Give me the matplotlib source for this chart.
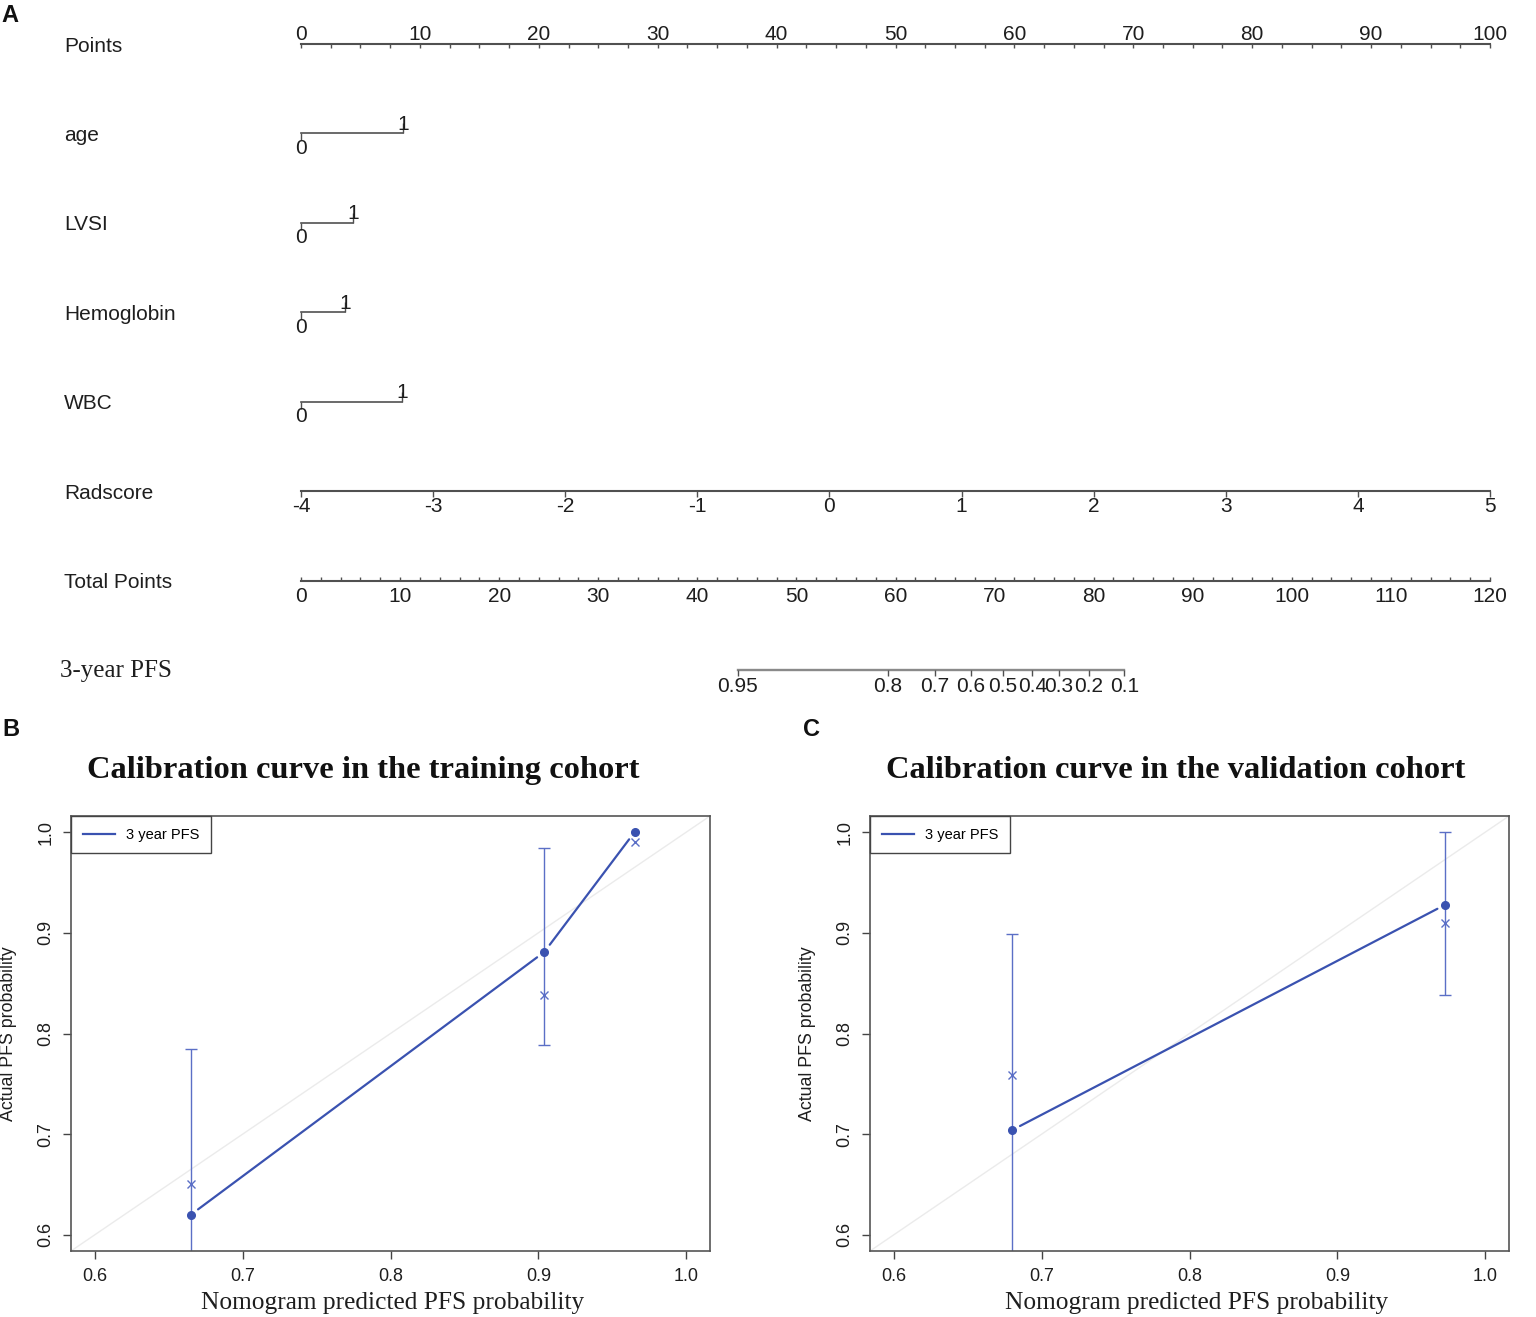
import numpy as np
import matplotlib.pyplot as plt
from matplotlib import transforms

W, H = 1536, 1317
PX = 0.72  # one pixel in points at dpi 100

# ---- nomogram data ----
var_names = ["age", "LVSI", "Hemoglobin", "WBC"]
var_points = [8.6, 4.4, 3.7, 8.5]          # points for level "1"
points_ticks = [0, 10, 20, 30, 40, 50, 60, 70, 80, 90, 100]
radscore_ticks = [-4, -3, -2, -1, 0, 1, 2, 3, 4, 5]
total_ticks = [0, 10, 20, 30, 40, 50, 60, 70, 80, 90, 100, 110, 120]
pfs_labels = ["0.95", "0.8", "0.7", "0.6", "0.5", "0.4", "0.3", "0.2", "0.1"]
pfs_total_points = [44.1, 59.2, 64.0, 67.6, 70.8, 73.8, 76.5, 79.5, 83.1]

# ---- calibration data ----
train_pred = [0.665, 0.904, 0.965]
train_obs = [0.620, 0.881, 1.000]
train_corr = [0.651, 0.838, 0.990]
train_lo = [0.50, 0.789, 1.000]
train_hi = [0.785, 0.984, 1.000]

valid_pred = [0.680, 0.973]
valid_obs = [0.704, 0.928]
valid_corr = [0.759, 0.910]
valid_lo = [0.50, 0.838]
valid_hi = [0.899, 1.000]

SANS = "Liberation Sans"
SERIF = "Liberation Serif"
GRAY = "#505050"
BLUE = "#3a52b0"
TXT = "#1e1e1e"
NFS = 15  # nomogram font size

fig = plt.figure(figsize=(W / 100, H / 100), dpi=100)

# ================= A: nomogram =================
row_top, row_bot = 44, 670
ax = fig.add_axes([301 / W, 1 - row_bot / H, (1490 - 301) / W, (row_bot - row_top) / H])
ax.set_xlim(0, 100)
ax.set_ylim(7, 0)
ax.axis("off")
left_tr = transforms.blended_transform_factory(fig.transFigure, ax.transData)

def lab(x, row, s, dy_px, **kw):
    ax.annotate(s, (x, row), xytext=(0, -dy_px * PX), textcoords="offset points",
                ha="center", va="baseline", fontsize=NFS, family=SANS, color=TXT,
                annotation_clip=False, **kw)

row_names = ["Points"] + var_names + ["Radscore", "Total Points"]
for i, name in enumerate(row_names):
    ax.annotate(name, (64 / W, i), xycoords=left_tr, xytext=(0, -7.5 * PX),
                textcoords="offset points", fontsize=NFS, family=SANS, color=TXT,
                va="baseline", ha="left", annotation_clip=False)
ax.annotate("3-year PFS", (60 / W, 7), xycoords=left_tr, xytext=(0, -6.5 * PX),
            textcoords="offset points", fontsize=18, family=SERIF, color=TXT,
            va="baseline", ha="left", annotation_clip=False)

# Points row
ax.plot([0, 100], [0, 0], color=GRAY, lw=1.5, clip_on=False)
minor = np.arange(0, 100.1, 2.5)
ax.plot(minor, np.zeros_like(minor), ls="none", marker=3, ms=3, mew=1, color=GRAY, clip_on=False)
for t in points_ticks:
    lab(t, 0, str(t), -4)

# categorical variables
for i, (name, p) in enumerate(zip(var_names, var_points), start=1):
    ax.plot([0, p], [i, i], color=GRAY, lw=1.2, clip_on=False)
    ax.plot([0], [i], ls="none", marker=3, ms=5, mew=1, color=GRAY, clip_on=False)
    ax.plot([p], [i], ls="none", marker=2, ms=7, mew=1, color=GRAY, clip_on=False)
    lab(0, i, "0", 20.5)
    lab(p, i, "1", -3.5)

# Radscore row
rs_pts = [(r - radscore_ticks[0]) * 100 / (radscore_ticks[-1] - radscore_ticks[0]) for r in radscore_ticks]
ax.plot([0, 100], [5, 5], color=GRAY, lw=1.5, clip_on=False)
ax.plot(rs_pts, [5] * len(rs_pts), ls="none", marker=3, ms=4, mew=1, color=GRAY, clip_on=False)
for r, p in zip(radscore_ticks, rs_pts):
    lab(p, 5, str(r), 21)

# Total points row
tp_scale = 100 / total_ticks[-1]
ax.plot([0, 100], [6, 6], color=GRAY, lw=1.5, clip_on=False)
tminor = np.arange(0, 120.1, 2) * tp_scale
ax.plot(tminor, [6] * len(tminor), ls="none", marker=2, ms=3, mew=1, color=GRAY, clip_on=False)
for t in total_ticks:
    lab(t * tp_scale, 6, str(t), 21)

# 3-year PFS row
pp = [t * tp_scale for t in pfs_total_points]
ax.plot([pp[0], pp[-1]], [7, 7], color="#8a8a8a", lw=1.7, clip_on=False)
ax.plot(pp, [7] * len(pp), ls="none", marker=3, ms=4, mew=1, color=GRAY, clip_on=False)
for s, p in zip(pfs_labels, pp):
    lab(p, 7, s, 21.5)

# ================= B, C: calibration =================
def calib(left_px, pred, obs, corr, lo, hi, title, title_cx, xlab_cx, ylab_x):
    cax = fig.add_axes([left_px / W, 1 - 1251 / H, 639 / W, 435 / H])
    lims = (0.584, 1.016)
    cax.set_xlim(lims)
    cax.set_ylim(lims)
    cax.plot(lims, lims, color="#ebebeb", lw=1.0, zorder=1)
    for x, l, h in zip(pred, lo, hi):
        if h > l:
            cax.errorbar([x], [(l + h) / 2], yerr=[[(h - l) / 2], [(h - l) / 2]], fmt="none",
                         ecolor="#5b6fc6", elinewidth=1.0, capsize=4, capthick=1.0, zorder=2)
    for i in range(len(pred) - 1):
        cax.annotate("", xy=(pred[i + 1], obs[i + 1]), xytext=(pred[i], obs[i]),
                     arrowprops=dict(arrowstyle="-", color=BLUE, lw=1.6, shrinkA=6.5, shrinkB=6.5))
    cax.plot(pred, obs, ls="none", marker="o", ms=5.5, color=BLUE, zorder=3)
    cax.plot(pred, corr, ls="none", marker="x", ms=6, mew=1.0, color="#5b6fc6", zorder=3)
    cax.plot([], [], color=BLUE, lw=1.6, label="3 year PFS")
    leg = cax.legend(loc="upper left", borderaxespad=0, fancybox=False, framealpha=1,
                     edgecolor="#444444", handlelength=2.2, borderpad=0.8,
                     prop={"family": SANS, "size": 10.5})
    leg.get_frame().set_linewidth(1.0)
    ticks = [0.6, 0.7, 0.8, 0.9, 1.0]
    cax.set_xticks(ticks)
    cax.set_yticks(ticks)
    cax.set_xticklabels(["0.6", "0.7", "0.8", "0.9", "1.0"], family=SANS, fontsize=13)
    cax.set_yticklabels(["0.6", "0.7", "0.8", "0.9", "1.0"], family=SANS, fontsize=13,
                        rotation=90, va="center")
    cax.tick_params(length=6, width=1, color="#444444", labelcolor=TXT, pad=6)
    for sp in cax.spines.values():
        sp.set_color("#555555")
        sp.set_linewidth(1.2)
    fig.text(title_cx / W, 1 - 770 / H, title, family=SERIF, weight="bold", fontsize=23.4,
             ha="center", va="center", color="#111111")
    fig.text(xlab_cx / W, 1 - 1303 / H, "Nomogram predicted PFS probability", family=SERIF,
             fontsize=18.3, ha="center", va="center", color=TXT)
    fig.text(ylab_x / W, 1 - 1034 / H, "Actual PFS probability", family=SANS, fontsize=12.8,
             rotation=90, ha="center", va="center", color=TXT)

calib(71, train_pred, train_obs, train_corr, train_lo, train_hi,
      "Calibration curve in the training cohort", 363, 393, 9)
calib(870, valid_pred, valid_obs, valid_corr, valid_lo, valid_hi,
      "Calibration curve in the validation cohort", 1176, 1197, 808)

# panel letters
for s, x, y in [("A", 10, 15), ("B", 11, 729), ("C", 812, 729)]:
    fig.text(x / W, 1 - y / H, s, family=SANS, weight="bold", fontsize=17,
             ha="center", va="center", color="#111111")

fig.savefig("out.png", dpi=100, facecolor="white")
